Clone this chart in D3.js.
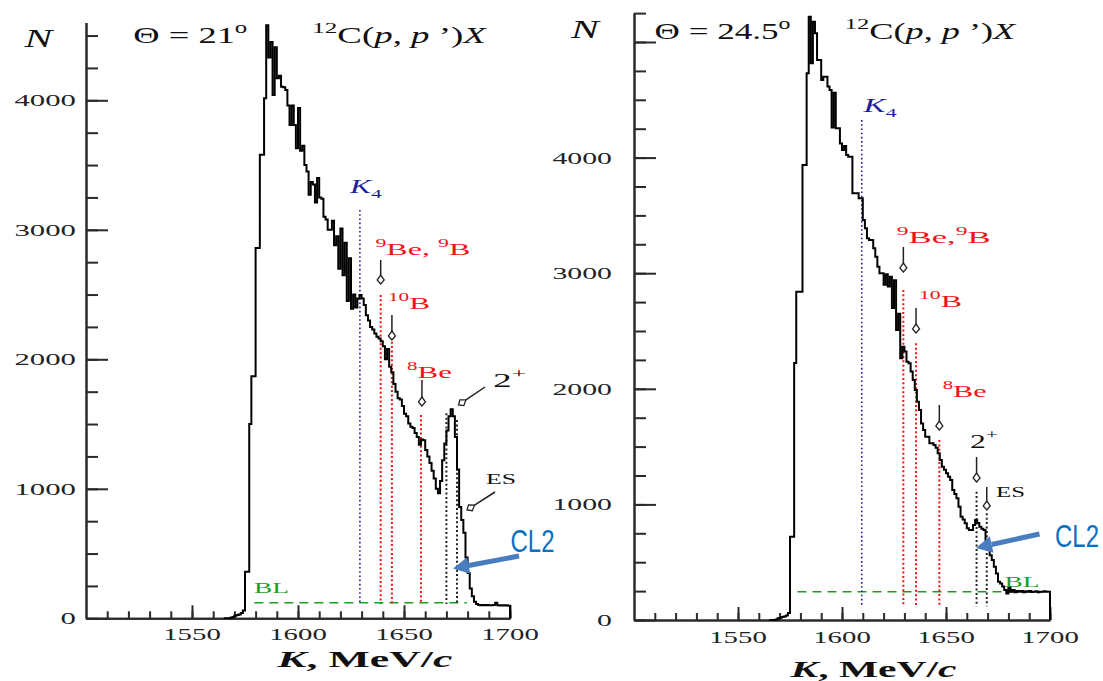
<!DOCTYPE html>
<html lang="en">
<head>
<meta charset="utf-8">
<script src="https://d3js.org/d3.v7.min.js"></script>
<style>
  body { margin: 0; background: #fff; }
  svg { display: block; }
</style>
</head>
<body>
<div id="chart"></div>
<script>
// histogram bins, 1 MeV/c wide, first bin starts at kStart
const kStart = 1565;
const leftCounts = [
  0, 0, 0, 5, 10, 20, 25, 30, 40, 60,
  360, 360, 1500, 1870, 1870, 2860, 2860, 3580, 3580, 4015,
  4580, 4330, 4450, 4040, 4410, 4170, 4190, 4105, 4100, 4080,
  3960, 3810, 3960, 3810, 3630, 3940, 3610, 3650, 3500, 3450,
  3270, 3370, 3350, 3210, 3400, 3250, 3240, 3100, 3080, 3000,
  3000, 3070, 2880, 2950, 2700, 3010, 2650, 2900, 2450, 2780,
  2390, 2500, 2400, 2470, 2496, 2470, 2420, 2340, 2300, 2250,
  2230, 2200, 2174, 2160, 2140, 2100, 2000, 2080, 1943, 1900,
  1810, 1750, 1700, 1690, 1640, 1580, 1560, 1505, 1480, 1470,
  1430, 1400, 1340, 1380, 1375, 1300, 1250, 1200, 1140, 1080,
  1000, 965, 1060, 1220, 1350, 1450, 1560, 1614, 1560, 1400,
  1150, 860, 760, 660, 470, 350, 230, 170, 128, 110,
  102, 100, 102, 100, 102, 100, 100, 102, 120, 100,
  98, 100, 98, 100, 97
];
const rightCounts = [
  0, 0, 0, 5, 15, 20, 25, 30, 40, 60,
  720, 720, 2223, 2840, 2840, 2840, 3936, 3936, 4729, 5219,
  4816, 5176, 5075, 4844, 4844, 4671, 4700, 4700, 4614, 4585,
  4260, 4560, 4254, 4254, 4123, 4066, 4100, 4022, 4008, 4008,
  3691, 3691, 3691, 3648, 3648, 3460, 3388, 3302, 3287, 3287,
  3215, 3143, 3056, 2999, 2999, 2900, 2990, 2884, 2970, 2700,
  2940, 2509, 2650, 2264, 2364, 2322, 2235, 2220, 2150, 2076,
  1990, 1889, 1817, 1700, 1644, 1586, 1586, 1528, 1528, 1514,
  1490, 1442, 1384, 1326, 1300, 1269, 1240, 1211, 1125, 1090,
  1053, 980, 894, 870, 836, 793, 778, 778, 822, 865,
  840, 807, 790, 778, 692, 605, 560, 519, 460, 403,
  331, 316, 290, 259, 230, 285, 245, 260, 240, 250,
  245, 250, 240, 248, 245, 250, 242, 245, 248, 240,
  245, 245, 248, 245, 245
];

// marker lines: K position, top and bottom count
const leftMarkerK   = [1629.2, 1639, 1644.3, 1658, 1670, 1675];
const leftMarkerTop = [3153, 2497, 2136, 1570, 1583, 1531];
const rightMarkerK   = [1609.5, 1629.5, 1635.6, 1646.8, 1664.7, 1669.6];
const rightMarkerTop = [4325, 2855, 2393, 1557, 1110, 923];
const markerKind = ["K4", "9Be", "10B", "8Be", "2+", "ES"];
const leftBaseline = 120;
const rightBaseline = 245;

const yLabelTicks = [0, 1000, 2000, 3000, 4000];
const xLabelTicks = [1550, 1600, 1650, 1700];

const SERIF = '"Liberation Serif", "DejaVu Serif", serif';
const RED = "#f01414", BLUE = "#1c1c9c", GREEN = "#1e9e1e";

const svg = d3.select("#chart").append("svg")
  .attr("width", 1103).attr("height", 681);

// text with horizontal stretch so it covers a given width
function fitText(parent, x, y, width, parts, opts) {
  const base = opts.size || 16;
  const g = parent.append("g");
  const t = g.append("text")
    .attr("font-family", opts.family || SERIF)
    .attr("fill", opts.color || "#111")
    .attr("font-size", base);
  if (opts.weight) t.attr("font-weight", opts.weight);
  let shift = 0;
  parts.forEach(p => {
    const target = p.sup ? -base * 0.45 : p.sub ? base * 0.3 : 0;
    const ts = t.append("tspan").attr("dy", target - shift).text(p.t)
      .attr("font-size", (p.sup || p.sub) ? base * 0.68 : base);
    if (p.it) ts.attr("font-style", "italic");
    shift = target;
  });
  const bb = t.node().getBBox();
  const s = width / bb.width;
  g.attr("transform", `translate(${x - bb.x * s},${y}) scale(${s},1)`);
  return g;
}

function stretchLabel(parent, x, y, sx, str, anchor, size) {
  parent.append("g").attr("transform", `translate(${x},${y}) scale(${sx},1)`)
    .append("text")
    .attr("font-family", SERIF).attr("font-size", size).attr("fill", "#222")
    .attr("text-anchor", anchor).text(str);
}

function smallArrow(parent, x1, y1, x2, y2, color) {
  const a = Math.atan2(y2 - y1, x2 - x1);
  const L = 9, W = 3.5;
  const bx = x2 - L * Math.cos(a), by = y2 - L * Math.sin(a);
  parent.append("line").attr("x1", x1).attr("y1", y1).attr("x2", bx).attr("y2", by)
    .attr("stroke", color).attr("stroke-width", 1.5);
  const mx = x2 - 0.45 * L * Math.cos(a), my = y2 - 0.45 * L * Math.sin(a);
  const nx = -Math.sin(a), ny = Math.cos(a);
  parent.append("path")
    .attr("d", `M${x2},${y2}L${mx + nx * W},${my + ny * W}L${bx},${by}L${mx - nx * W},${my - ny * W}Z`)
    .attr("fill", "#fff").attr("stroke", color).attr("stroke-width", 1.3);
}

function bigArrow(parent, x1, y1, x2, y2) {
  const a = Math.atan2(y2 - y1, x2 - x1);
  const L = 16, W = 8.5;
  const bx = x2 - L * Math.cos(a), by = y2 - L * Math.sin(a);
  const nx = -Math.sin(a), ny = Math.cos(a);
  parent.append("line").attr("x1", x1).attr("y1", y1).attr("x2", bx).attr("y2", by)
    .attr("stroke", "#4a7dbf").attr("stroke-width", 5);
  parent.append("path")
    .attr("d", `M${x2},${y2}L${bx + nx * W},${by + ny * W}L${bx - nx * W},${by - ny * W}Z`)
    .attr("fill", "#4a7dbf");
}

const panels = [
  {
    counts: leftCounts, mk: leftMarkerK, mtop: leftMarkerTop, bl: leftBaseline, blFrom: 1579.4, blTo: 1679.6,
    lineBottom: 110,
    x0: 86, x1: 510, y0: 618.3, ppn: 0.1295, nMax: 4600, yMajor: [0, 1000, 2000, 3000, 4000],
    yLabRight: 76, yLabW: 62, xLabBase: 640, xLabW: 58,
    angle: "21", nLab: [22.8, 46.5], thLab: [133.3, 43.3, 114], rxLab: [312.3, 43.3, 175],
    kLab: [275.4, 666.7, 177], comma: ", ",
    K4: [348.3, 193, 33.4],
    Be9: { ax: 0, ay: [260, 284], lab: [375.4, 255, 95] },
    B10: { ax: 0, ay: [315, 340], lab: [388, 309, 42] },
    Be8: { ax: 1, ay: [380, 406], lab: [407, 378, 45] },
    two: { arrow: [485, 387, 458.5, 405], lab: [493, 387, 33] },
    es: { arrow: [495, 492, 467, 510], lab: [486, 484, 30] },
    blLab: [254, 593, 35],
    cl2: [510.5, 552, 44], cl2Arrow: [519, 556, 453, 568.5]
  },
  {
    counts: rightCounts, mk: rightMarkerK, mtop: rightMarkerTop, bl: rightBaseline, blFrom: 1578.6, blTo: 1697,
    lineBottom: 118,
    x0: 634, x1: 1050, y0: 620, ppn: 0.1156, nMax: 5250, yMajor: [0, 1000, 2000, 3000, 4000, 5000],
    yLabRight: 612, yLabW: 60, xLabBase: 643, xLabW: 58,
    angle: "24.5", nLab: [569.3, 38.3], thLab: [654.6, 39.3, 136], rxLab: [844.7, 39.3, 172],
    kLab: [788.6, 676.7, 168], comma: ",",
    K4: [861.7, 111.7, 35],
    Be9: { ax: 0, ay: [247, 272], lab: [896.7, 243, 94] },
    B10: { ax: 0, ay: [308, 333], lab: [919, 306.7, 43] },
    Be8: { ax: 0, ay: [405, 430], lab: [942.7, 396.7, 44] },
    two: { vert: [457, 482], lab: [970, 448, 28] },
    es: { vert: [487, 510], lab: [996, 497, 29] },
    blLab: [1004.4, 587, 35],
    cl2: [1055, 547, 44], cl2Arrow: [1039.5, 534, 976, 548]
  }
];

panels.forEach(p => {
  const x = d3.scaleLinear().domain([1500, 1700]).range([p.x0, p.x1]);
  const y = d3.scaleLinear().domain([0, p.nMax]).range([p.y0, p.y0 - p.nMax * p.ppn]);
  const g = svg.append("g");

  // axes: ticks point into the plot
  const styleAxis = sel => {
    sel.selectAll("path,line").attr("stroke", "#2a2a2a").attr("stroke-width", 2);
    sel.selectAll("text").remove();
  };
  g.append("g").attr("transform", `translate(${p.x0},0)`)
    .call(d3.axisRight(y).tickValues(d3.range(0, p.nMax + 1, 250)).tickSize(12).tickSizeOuter(0))
    .call(styleAxis);
  g.append("g").attr("transform", `translate(${p.x0},0)`)
    .call(d3.axisRight(y).tickValues(p.yMajor).tickSize(22).tickSizeOuter(0))
    .call(styleAxis);
  g.append("g").attr("transform", `translate(0,${p.y0})`)
    .call(d3.axisTop(x).tickValues(d3.range(1510, 1701, 10)).tickSize(7).tickSizeOuter(0))
    .call(styleAxis);
  g.append("g").attr("transform", `translate(0,${p.y0})`)
    .call(d3.axisTop(x).tickValues(xLabelTicks).tickSize(13).tickSizeOuter(0))
    .call(styleAxis);

  // tick labels (stretched wide like the original raster)
  const probe = g.append("text").attr("font-family", SERIF).attr("font-size", 17.5).text("4000");
  const sy = p.yLabW / probe.node().getBBox().width;
  const sxl = p.xLabW / probe.node().getBBox().width;
  probe.remove();
  yLabelTicks.forEach(v => stretchLabel(g, p.yLabRight, y(v) + 6, sy, String(v), "end", 17.5));
  xLabelTicks.forEach(v => stretchLabel(g, x(v), p.xLabBase, sxl, String(v), "middle", 17.5));

  // baseline
  g.append("line")
    .attr("x1", x(p.blFrom)).attr("x2", x(p.blTo)).attr("y1", y(p.bl)).attr("y2", y(p.bl))
    .attr("stroke", GREEN).attr("stroke-width", 1.4).attr("stroke-dasharray", "9,6");

  // marker lines
  p.mk.forEach((k, i) => {
    const kind = markerKind[i];
    const col = kind === "K4" ? BLUE : (kind === "2+" || kind === "ES") ? "#222" : RED;
    g.append("line")
      .attr("x1", x(k)).attr("x2", x(k)).attr("y1", y(p.mtop[i])).attr("y2", y(p.lineBottom))
      .attr("stroke", col).attr("stroke-width", kind === "K4" ? 1.6 : 2)
      .attr("stroke-dasharray", kind === "K4" ? "1.6,2.6" : "2,2.4");
  });

  // histogram
  const pts = [[kStart, 0]].concat(p.counts.map((n, i) => [kStart + i, n]));
  pts.push([1700, p.counts[p.counts.length - 1]]);
  pts.push([1700, 0]);
  const line = d3.line().x(d => x(d[0])).y(d => y(d[1])).curve(d3.curveStepAfter);
  g.append("path").attr("d", line(pts))
    .attr("fill", "none").attr("stroke", "#000").attr("stroke-width", 2);

  // headers
  fitText(g, p.nLab[0], p.nLab[1], 31.6, [{ t: "N", it: true }], { size: 25 });
  fitText(g, p.thLab[0], p.thLab[1], p.thLab[2],
    [{ t: "Θ = " + p.angle }, { t: "o", sup: true }], { size: 24 });
  fitText(g, p.rxLab[0], p.rxLab[1], p.rxLab[2],
    [{ t: "12", sup: true }, { t: "C(" }, { t: "p", it: true }, { t: ", " }, { t: "p", it: true },
     { t: " ’)" }, { t: "X", it: true }], { size: 23 });
  fitText(g, p.kLab[0], p.kLab[1], p.kLab[2],
    [{ t: "K", it: true }, { t: ", MeV/" }, { t: "c", it: true }], { size: 23, weight: "bold" });

  // marker labels and arrows
  const mx = i => x(p.mk[i]);
  fitText(g, p.K4[0], p.K4[1], p.K4[2], [{ t: "K", it: true }, { t: "4", sub: true }],
    { size: 18, color: BLUE });

  smallArrow(g, mx(1) + p.Be9.ax, p.Be9.ay[0], mx(1) + p.Be9.ax, p.Be9.ay[1], "#222");
  fitText(g, p.Be9.lab[0], p.Be9.lab[1], p.Be9.lab[2],
    [{ t: "9", sup: true }, { t: "Be" + p.comma }, { t: "9", sup: true }, { t: "B" }],
    { size: 17, color: RED });

  smallArrow(g, mx(2) + p.B10.ax, p.B10.ay[0], mx(2) + p.B10.ax, p.B10.ay[1], "#222");
  fitText(g, p.B10.lab[0], p.B10.lab[1], p.B10.lab[2],
    [{ t: "10", sup: true }, { t: "B" }], { size: 17, color: RED });

  smallArrow(g, mx(3) + p.Be8.ax, p.Be8.ay[0], mx(3) + p.Be8.ax, p.Be8.ay[1], "#222");
  fitText(g, p.Be8.lab[0], p.Be8.lab[1], p.Be8.lab[2],
    [{ t: "8", sup: true }, { t: "Be" }], { size: 17, color: RED });

  if (p.two.arrow) smallArrow(g, ...p.two.arrow, "#222");
  else smallArrow(g, mx(4), p.two.vert[0], mx(4), p.two.vert[1], "#222");
  fitText(g, p.two.lab[0], p.two.lab[1], p.two.lab[2],
    [{ t: "2" }, { t: "+", sup: true }], { size: 19, color: "#111" });

  if (p.es.arrow) smallArrow(g, ...p.es.arrow, "#222");
  else smallArrow(g, mx(5), p.es.vert[0], mx(5), p.es.vert[1], "#222");
  fitText(g, p.es.lab[0], p.es.lab[1], p.es.lab[2], [{ t: "ES" }], { size: 14, color: "#111" });

  fitText(g, p.blLab[0], p.blLab[1], p.blLab[2], [{ t: "BL" }], { size: 14, color: GREEN });

  // CL2 callout
  bigArrow(g, ...p.cl2Arrow);
  fitText(g, p.cl2[0], p.cl2[1], p.cl2[2], [{ t: "CL2" }],
    { size: 31, color: "#0a6fc2", family: '"Liberation Sans Narrow", "Liberation Sans", sans-serif' });
});
</script>
</body>
</html>
